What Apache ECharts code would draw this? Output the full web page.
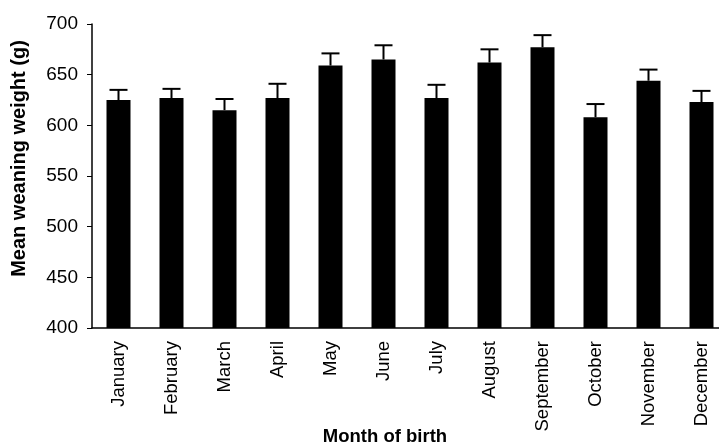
<!DOCTYPE html>
<html>
<head>
<meta charset="utf-8">
<script src="https://cdn.jsdelivr.net/npm/echarts@6/dist/echarts.min.js"></script>
<style>
  html, body { margin: 0; padding: 0; background: #fff; }
  #chart { width: 719px; height: 447px; }
</style>
</head>
<body>
<div id="chart"></div>
<script>
const months = ['January', 'February', 'March', 'April', 'May', 'June', 'July',
  'August', 'September', 'October', 'November', 'December'];
const meanWeight = [625, 627, 615, 627, 659, 665, 627, 662, 677, 608, 644, 623];
const errUpper = [635, 636, 626, 641, 671, 679, 640, 675, 689, 621, 655, 634];
const yTicks = [400, 450, 500, 550, 600, 650, 700];

const chart = echarts.init(document.getElementById('chart'));

// upper error bar with a cap
function renderErr(params, api) {
  const i = api.value(0);
  const top = api.coord([i, api.value(2)]);
  const base = api.coord([i, api.value(1)]);
  const cap = 9;
  const style = { stroke: '#000', lineWidth: 2 };
  return {
    type: 'group',
    children: [
      { type: 'line', shape: { x1: top[0], y1: base[1], x2: top[0], y2: top[1] }, style },
      { type: 'line', shape: { x1: top[0] - cap, y1: top[1], x2: top[0] + cap, y2: top[1] }, style }
    ]
  };
}

chart.setOption({
  animation: false,
  backgroundColor: '#fff',
  grid: { left: 92, top: 24, width: 636, height: 304, outerBoundsMode: 'none', containLabel: false },
  xAxis: {
    type: 'category',
    data: months,
    name: 'Month of birth',
    nameLocation: 'middle',
    nameGap: 99,
    nameMoveOverlap: false,
    nameTextStyle: { fontFamily: 'Liberation Sans', fontSize: 18.5, fontWeight: 'bold', color: '#000', padding: [0, 50, 0, 0] },
    axisLine: { lineStyle: { color: '#000', width: 1.5 } },
    axisTick: { alignWithLabel: false, length: 4, lineStyle: { color: '#000' } },
    axisLabel: { rotate: 90, margin: 13, fontFamily: 'Liberation Sans', fontSize: 18.5, color: '#000', interval: 0 }
  },
  yAxis: {
    type: 'value',
    min: yTicks[0],
    max: yTicks[yTicks.length - 1],
    interval: 50,
    name: 'Mean weaning weight (g)',
    nameLocation: 'middle',
    nameGap: 63,
    nameMoveOverlap: false,
    nameTextStyle: { fontFamily: 'Liberation Sans', fontSize: 20, fontWeight: 'bold', color: '#000', padding: [0, 0, 0, 35] },
    axisLine: { show: true, lineStyle: { color: '#000', width: 1.5 } },
    axisTick: { show: true, length: 5, lineStyle: { color: '#000' } },
    axisLabel: { margin: 14, fontFamily: 'Liberation Sans', fontSize: 19, color: '#000' },
    splitLine: { show: false }
  },
  series: [
    {
      type: 'bar',
      data: meanWeight,
      barWidth: 24,
      itemStyle: { color: '#000' }
    },
    {
      type: 'custom',
      renderItem: renderErr,
      data: months.map((m, i) => [i, meanWeight[i], errUpper[i]]),
      z: 3
    }
  ]
});
</script>
</body>
</html>
